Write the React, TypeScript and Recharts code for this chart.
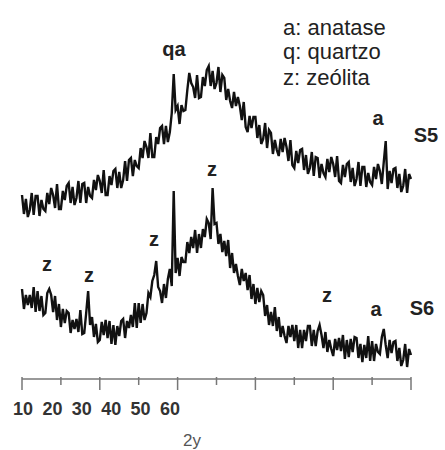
import React from 'react';
import { LineChart, Line, XAxis, YAxis } from 'recharts';

// 2θ sampling grid, degrees
const START_ANGLE = 10;
const STEP = 0.25;

// S5 intensity (a.u.), one value per 0.25° from 10° to 60°
const s5Counts = [
  184, 165, 180, 162, 169, 186, 164, 183, 183, 163, 179, 170, 168, 186, 175, 191,
  184, 171, 195, 170, 170, 188, 179, 193, 196, 176, 192, 174, 181, 198, 176, 195,
  196, 176, 192, 183, 181, 199, 189, 204, 198, 186, 209, 184, 184, 203, 194, 208,
  210, 191, 207, 191, 199, 218, 198, 219, 221, 203, 219, 213, 211, 231, 221, 238,
  232, 221, 246, 222, 222, 242, 235, 251, 253, 235, 253, 237, 247, 266, 305, 269,
  273, 255, 274, 268, 269, 289, 306, 296, 292, 281, 304, 281, 282, 302, 293, 309,
  313, 293, 308, 290, 296, 312, 287, 304, 301, 279, 290, 278, 271, 287, 273, 282,
  273, 259, 277, 252, 247, 263, 251, 262, 262, 241, 254, 235, 240, 256, 231, 249,
  246, 225, 239, 229, 223, 240, 227, 241, 232, 218, 239, 214, 211, 228, 216, 229,
  230, 209, 224, 205, 211, 227, 203, 222, 221, 201, 215, 206, 202, 220, 207, 222,
  215, 202, 223, 198, 196, 214, 202, 215, 217, 197, 211, 193, 200, 217, 193, 212,
  212, 192, 206, 197, 194, 212, 200, 215, 208, 195, 217, 238, 190, 208, 196, 210,
  211, 191, 205, 187, 193, 210, 186, 205, 200,
];

// S6 intensity (a.u.)
const s6Counts = [
  90, 70, 84, 74, 84, 71, 92, 67, 88, 68, 83, 64, 66, 86, 90, 84,
  67, 83, 59, 75, 52, 70, 56, 68, 66, 46, 59, 50, 60, 47, 69, 45,
  46, 66, 88, 54, 62, 42, 55, 37, 39, 57, 44, 59, 41, 58, 35, 54,
  34, 53, 43, 58, 60, 41, 58, 51, 64, 52, 76, 51, 76, 56, 75, 59,
  66, 86, 82, 98, 104, 118, 92, 88, 76, 95, 81, 100, 110, 93, 188, 106,
  121, 103, 122, 117, 117, 137, 126, 142, 131, 149, 126, 145, 131, 150, 142, 160,
  156, 140, 191, 155, 156, 135, 145, 127, 138, 123, 139, 111, 126, 106, 115, 103,
  94, 110, 98, 106, 89, 104, 80, 95, 75, 91, 77, 88, 84, 63, 74, 54,
  67, 53, 72, 48, 62, 42, 53, 43, 36, 53, 42, 54, 38, 54, 31, 49,
  31, 49, 38, 53, 53, 33, 49, 33, 48, 54, 44, 31, 47, 27, 39, 30,
  23, 40, 29, 41, 28, 44, 20, 39, 22, 40, 27, 42, 41, 21, 35, 17,
  34, 21, 43, 18, 38, 18, 35, 27, 25, 42, 50, 34, 21, 39, 26, 37,
  38, 18, 31, 13, 19, 35, 12, 30, 24,
];

const axisTicks = [10, 15, 20, 25, 30, 35, 40, 45, 50, 55, 60];

const data = s5Counts.map((v, i) => ({
  angle: START_ANGLE + i * STEP,
  s5: v,
  s6: s6Counts[i],
}));

const FONT = '"Liberation Sans", Arial, sans-serif';
const PLOT_LEFT = 22;
const LABEL_STEP = 29.4;

const AxisTick = (props: any) => {
  const { x, y, payload } = props;
  const v = payload.value;
  const major = v % 10 === 0;
  return (
    <g>
      <line x1={x} x2={x} y1={y - 2} y2={y + (major ? 11 : 6)} stroke="#777" strokeWidth={1.5} />
      {major && (
        <text
          x={PLOT_LEFT + ((v - 10) / 10) * LABEL_STEP + 1}
          y={y + 36}
          textAnchor="middle"
          fontFamily={FONT}
          fontWeight="bold"
          fontSize={18}
          fill="#333"
        >
          {v}
        </text>
      )}
    </g>
  );
};

const Txt = ({ x, y, children, size = 20, bold = true, anchor = 'middle', fill = '#222' }: any) => (
  <text x={x} y={y} textAnchor={anchor} fontFamily={FONT} fontSize={size} fontWeight={bold ? 'bold' : 'normal'} fill={fill}>
    {children}
  </text>
);

export default function App() {
  return (
    <div style={{ position: 'absolute', left: 0, top: 0, width: 445, height: 450, background: '#fff' }}>
      <LineChart width={445} height={450} data={data} margin={{ top: 0, right: 34, left: 22, bottom: 11 }}>
        <XAxis
          dataKey="angle"
          type="number"
          domain={[10, 60]}
          ticks={axisTicks}
          interval={0}
          height={60}
          stroke="#777"
          strokeWidth={1.5}
          tickLine={false}
          tickSize={0}
          tickMargin={0}
          tick={<AxisTick />}
        />
        <YAxis hide domain={[0, 379]} />
        <Line type="linear" dataKey="s5" stroke="#111" strokeWidth={2.4} strokeLinejoin="miter" dot={false} isAnimationActive={false} />
        <Line type="linear" dataKey="s6" stroke="#111" strokeWidth={2.4} strokeLinejoin="miter" dot={false} isAnimationActive={false} />
      </LineChart>
      <svg width={445} height={450} style={{ position: 'absolute', left: 0, top: 0, pointerEvents: 'none' }}>
        <Txt x={283} y={35} size={22} bold={false} anchor="start">a: anatase</Txt>
        <Txt x={283} y={59} size={22} bold={false} anchor="start">q: quartzo</Txt>
        <Txt x={283} y={85} size={22} bold={false} anchor="start">z: zeólita</Txt>
        <Txt x={174} y={56}>qa</Txt>
        <Txt x={378} y={125}>a</Txt>
        <Txt x={426} y={142}>S5</Txt>
        <Txt x={212} y={176}>z</Txt>
        <Txt x={154} y={246}>z</Txt>
        <Txt x={47} y={271}>z</Txt>
        <Txt x={89} y={282}>z</Txt>
        <Txt x={327} y={302}>z</Txt>
        <Txt x={376} y={316}>a</Txt>
        <Txt x={422} y={315}>S6</Txt>
        <Txt x={192} y={446} size={17} bold={false} fill="#555">2y</Txt>
      </svg>
    </div>
  );
}
